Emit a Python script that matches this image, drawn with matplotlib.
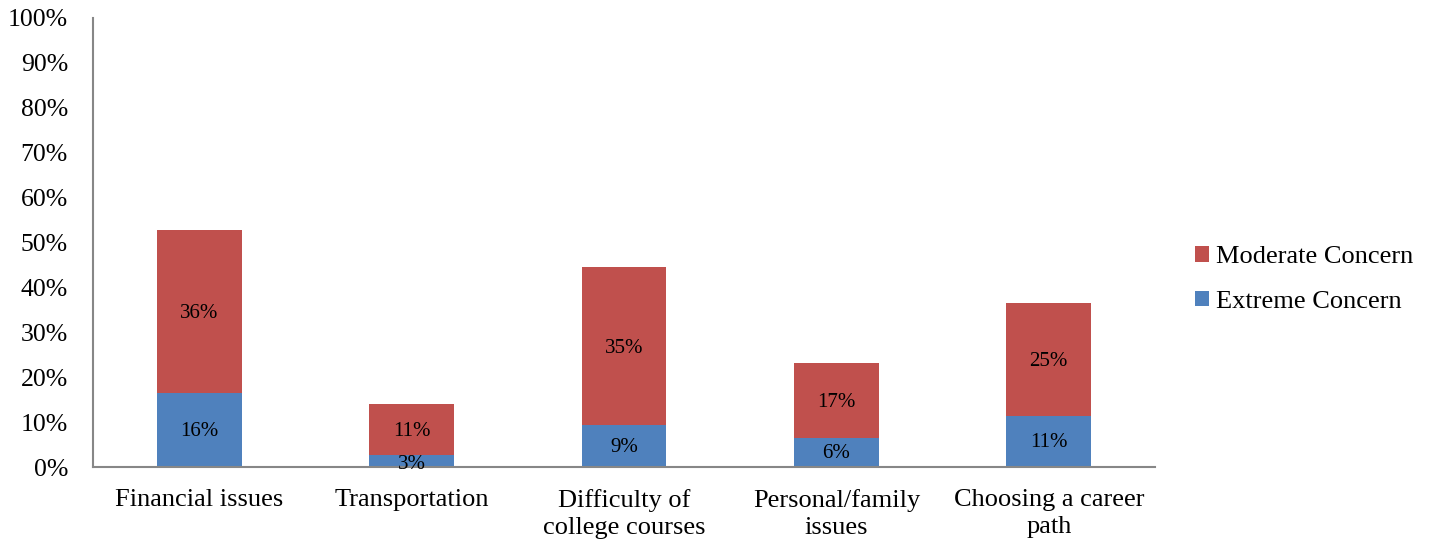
import matplotlib
matplotlib.use("Agg")
import matplotlib.pyplot as plt
import numpy as np

categories = ["Financial issues", "Transportation", "Difficulty of\ncollege courses",
              "Personal/family\nissues", "Choosing a career\npath"]
extreme = [16.5, 2.7, 9.3, 6.5, 11.4]
moderate = [36.3, 11.3, 35.2, 16.7, 25.1]
extreme_labels = ["16%", "3%", "9%", "6%", "11%"]
moderate_labels = ["36%", "11%", "35%", "17%", "25%"]
yticks = list(range(0, 101, 10))

plt.rcParams['font.family'] = ['Liberation Serif', 'DejaVu Serif']

fig = plt.figure(figsize=(14.32, 5.43), dpi=100)
ax = fig.add_axes([93/1432, 76/543, 1062/1432, 449/543])

x = np.arange(len(categories))
blue = "#4F81BD"
red = "#C0504D"
b1 = ax.bar(x, extreme, width=0.4, color=blue, label="Extreme Concern")
b2 = ax.bar(x, moderate, width=0.4, bottom=extreme, color=red, label="Moderate Concern")

for i in range(len(x)):
    ax.text(x[i], extreme[i] / 2 - (0.8 if extreme[i] < 5 else 0.3), extreme_labels[i],
            ha="center", va="center", fontsize=15)
    ax.text(x[i], extreme[i] + moderate[i] / 2 - 0.4, moderate_labels[i],
            ha="center", va="center", fontsize=15)

ax.set_xlim(-0.5, len(categories) - 0.5)
ax.set_ylim(0, 100)
ax.set_yticks(yticks)
ax.set_yticklabels([f"{v}%" for v in yticks], fontsize=18.5)
ax.set_xticks(x)
ax.set_xticklabels(categories, fontsize=19, linespacing=1.3)
ax.tick_params(length=0)
ax.tick_params(axis='y', pad=18)
ax.tick_params(axis='x', pad=16)
for s in ["top", "right"]:
    ax.spines[s].set_visible(False)
for s in ["left", "bottom"]:
    ax.spines[s].set_color("#878787")
    ax.spines[s].set_linewidth(1.5)

handles = [b2, b1]
ax.legend(handles, ["Moderate Concern", "Extreme Concern"], loc="center left",
          bbox_to_anchor=(1.015, 0.418), frameon=False, fontsize=19,
          handlelength=0.55, handleheight=0.55, handletextpad=0.25, labelspacing=0.85)

fig.savefig("out.png", dpi=100)
